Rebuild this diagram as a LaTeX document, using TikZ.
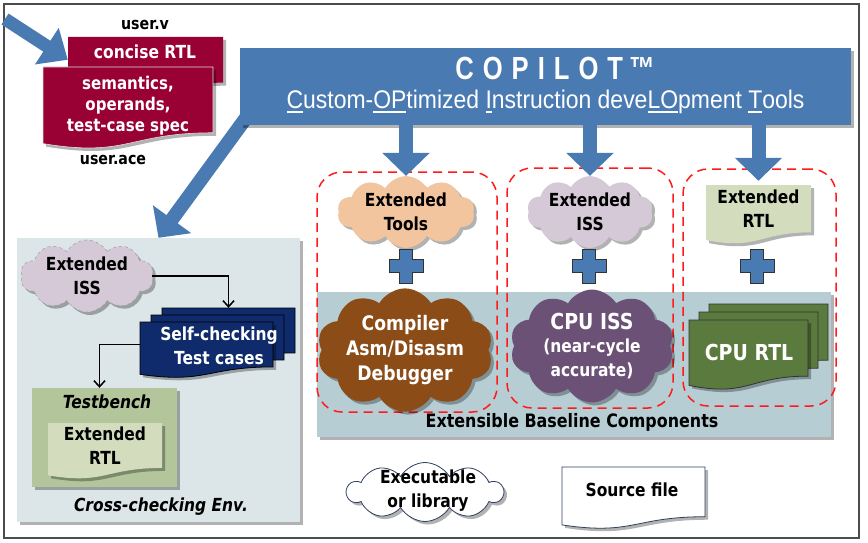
\documentclass[tikz,border=0pt]{standalone}
\usepackage{fontspec}
\setmainfont{DejaVu Sans}[FakeStretch=0.86]
\newfontfamily\narrowfont{Liberation Sans}[FakeStretch=0.8]
\newfontfamily\subfont{Liberation Sans}[FakeStretch=0.9]
\usetikzlibrary{shapes.symbols,arrows.meta,shadows,calc}
\definecolor{copblue}{HTML}{4A7AB2}
\definecolor{crimson}{HTML}{990033}
\definecolor{peach}{HTML}{F2C59E}
\definecolor{lav}{HTML}{D5C9D7}
\definecolor{lgreen}{HTML}{D3DDBE}
\definecolor{brownc}{HTML}{8B4C18}
\definecolor{purplec}{HTML}{6A5175}
\definecolor{dgreen}{HTML}{5B7A3D}
\definecolor{bandc}{HTML}{B7CDD4}
\definecolor{panelc}{HTML}{DCE6E8}
\definecolor{tbc}{HTML}{B3C69B}
\definecolor{navyc}{HTML}{0F2B6B}
\definecolor{reddash}{HTML}{FF1A1A}
\definecolor{outl}{HTML}{2F3F5F}
\newcommand\ulx[1]{\setbox0\hbox{#1}\rlap{\rule[-4pt]{\wd0}{1.6pt}}\box0}
\newcommand\docnode[7]{%
  \path[#2,shift={(#3,#4)}] (0,0) -- (#5,0) -- (#5,{0.802*#6})
    .. controls ({0.5*#5},{0.802*#6}) and ({0.5*#5},{1.107*#6}) .. (0,{0.934*#6}) -- cycle;
  \node[txt,minimum width=#5,minimum height={0.8*#6}] (#1) at ({#3+0.5*#5},{#4+0.4*#6}) {#7};}
\newcommand\plusat[2]{%
  \path[plusst,shift={(#1,#2)}] (-6.5,-17) -- (6.5,-17) -- (6.5,-6.5) -- (17,-6.5) -- (17,6.5)
    -- (6.5,6.5) -- (6.5,17) -- (-6.5,17) -- (-6.5,6.5) -- (-17,6.5) -- (-17,-6.5) -- (-6.5,-6.5) -- cycle;}
\begin{document}
\begin{tikzpicture}[x=1pt,y=-1pt,
  txt/.style={font=\fontsize{18}{24}\selectfont\bfseries,align=center,inner sep=0},
  shad/.style={drop shadow={shadow xshift=3pt,shadow yshift=-3pt,opacity=0.3,fill=black}},
  cl/.style={cloud,cloud puffs=10,cloud puff arc=120,cloud ignores aspect,inner sep=0,shad,txt},
  blockarrow/.style={line width=14pt,draw=copblue,-{Triangle[length=23pt,width=46pt]}},
  userarrow/.style={line width=13pt,draw=copblue,-{Triangle[length=25pt,width=42pt]}},
  dashbox/.style={draw=reddash,line width=1.5pt,dash pattern=on 9pt off 6pt,rounded corners=25pt},
  plusst/.style={fill=copblue,draw=black!80,line width=1pt},
  flow/.style={line width=1.5pt,-{Straight Barb[length=6pt,width=11pt]}},
  rectnode/.style={inner sep=0,draw=none}]
\useasboundingbox (0,0) rectangle (868,543);
\draw[black!70,line width=1.2pt] (4,4) rectangle (859,538);

% left panel
\node[rectnode,fill=panelc,shad,minimum width=283,minimum height=284] (xpanel) at (158.5,380) {};
% band
\node[rectnode,fill=bandc,shad,minimum width=514,minimum height=145] (band) at (574,364.5) {};
\node[txt,font=\fontsize{18.5}{24}\selectfont\bfseries] (bandtxt) at (572,422) {Extensible Baseline Components};

% diagonal arrow
\coordinate (dstart) at (262,96);
\draw[blockarrow] (dstart) -- (xpanel.north);
% COPILOT box
\node[rectnode,fill=copblue,shad,minimum width=611,minimum height=77] (cop) at (545.5,86.5) {};
\node[inner sep=0,text=white,font=\narrowfont\fontsize{32}{32}\selectfont\bfseries] (title) at (555,68)
  {C\hspace{9pt}O\hspace{9pt}P\hspace{9pt}I\hspace{9pt}L\hspace{9pt}O\hspace{9pt}T\hspace{6pt}™};
\node[inner sep=0,text=white,font=\subfont\fontsize{25.5}{26}\selectfont] (subtitle) at (545.5,102)
  {\ulx{C}ustom-\ulx{OP}timized \ulx{I}nstruction deve\ulx{LO}pment \ulx{T}ools};

% dashed boxes
\node[dashbox,minimum width=180,minimum height=240,inner sep=0] (b1) at (407,292) {};
\node[dashbox,minimum width=166,minimum height=240,inner sep=0] (b2) at (590,288) {};
\node[dashbox,minimum width=153,minimum height=237,inner sep=0] (b3) at (759.5,287.5) {};

% top clouds
\node[cl,fill=peach,minimum width=137,minimum height=62] (extools) at (406,212) {Extended\\Tools};
\node[cl,fill=lav,minimum width=126,minimum height=62] (extiss) at (590,212) {Extended\\ISS};
\docnode{extrtl}{fill=lgreen,shad}{706}{185}{105}{59}{Extended\\RTL}

\draw[blockarrow] (cop.south -| extools.north) -- (extools.north);
\draw[blockarrow] (cop.south -| extiss.north) -- (extiss.north);
\draw[blockarrow] (cop.south -| extrtl.north) -- ([yshift=4pt]extrtl.north);

\plusat{406}{266}
\plusat{589}{266}
\plusat{757}{266}

% baseline components
\node[cl,fill=brownc,text=white,font=\fontsize{20}{25}\selectfont\bfseries,minimum width=172,minimum height=106] (compiler) at (405,350)
  {Compiler\\Asm/Disasm\\Debugger};
\node[cl,fill=purplec,text=white,minimum width=164,minimum height=100] (cpuiss) at (592,346)
  {{\fontsize{22}{24}\selectfont CPU ISS}\\[-1pt]{\fontsize{18}{23}\selectfont (near-cycle}\\{\fontsize{18}{23}\selectfont accurate)}};
\docnode{rtlback}{fill=dgreen,draw=black!80,line width=0.8pt}{709}{304}{119}{70}{}
\docnode{rtlmid}{fill=dgreen,draw=black!80,line width=0.8pt}{699}{312}{119}{70}{}
\docnode{rtlfront}{fill=dgreen,draw=black!80,line width=0.8pt,shad}{689}{320}{119}{70}{}
\node[txt,text=white,font=\fontsize{22}{24}\selectfont\bfseries] (cpurtl) at (749,352) {CPU RTL};

% user files
\docnode{concise}{fill=crimson,shad}{68}{37}{155}{57}{}
\node[txt,text=white] (concisetxt) at (145,52) {concise RTL};
\docnode{sem}{fill=crimson,draw=white!75!gray,line width=0.6pt,shad}{43}{67}{170}{82}{}
\node[txt,text=white,font=\fontsize{17.5}{21}\selectfont\bfseries] (semtxt) at (128,106) {semantics,\\operands,\\test-case spec};
\node[txt,font=\fontsize{16.5}{20}\selectfont\bfseries] (userv) at (145,25) {user.v};
\node[txt,font=\fontsize{16.5}{20}\selectfont\bfseries] (userace) at (113,160) {user.ace};
\coordinate (uin) at (5,19);
\draw[userarrow] (uin) -- (concise.west);

% cross-checking env
\node[cl,fill=lav,draw=gray!70,dashed,line width=0.6pt,minimum width=133,minimum height=72] (liss) at (87,276) {Extended\\ISS};
\docnode{selfback}{fill=navyc,draw=black,line width=0.8pt}{162}{308}{133}{56}{}
\docnode{selfmid}{fill=navyc,draw=black,line width=0.8pt}{151}{315}{133}{56}{}
\docnode{selffront}{fill=navyc,draw=black,line width=0.8pt,shad}{140}{322}{133}{56}{}
\node[txt,text=white] (selftxt) at (219,346) {Self-checking\\Test cases};
\node[rectnode,fill=tbc,shad,minimum width=145,minimum height=99] (tb) at (104.5,437.5) {};
\node[txt,font=\fontsize{18}{24}\selectfont\bfseries\itshape] (tbtxt) at (107,402) {Testbench};
\docnode{tbrtl}{fill=lgreen,shad}{48}{423}{114}{56}{}
\node[txt] (tbrtltxt) at (105,446) {Extended\\RTL};
\node[txt,font=\fontsize{18}{24}\selectfont\bfseries\itshape] (xtxt) at (161,507) {Cross-checking Env.};
\draw[flow] (liss.east) -| (selfback.north);
\draw[flow] (selffront.west) -| ([xshift=-5pt]tb.north);

% legend
\node[cl,fill=white,draw=outl,line width=0.8pt,minimum width=156,minimum height=59] (exec) at (425,492) {};
\node[txt] (exectxt) at (428,491) {Executable\\or library};
\docnode{src}{fill=white,draw=outl,line width=0.8pt,shad}{562}{467}{143}{62}{}
\node[txt] (srctxt) at (632,490) {Source file};
\end{tikzpicture}
\end{document}
